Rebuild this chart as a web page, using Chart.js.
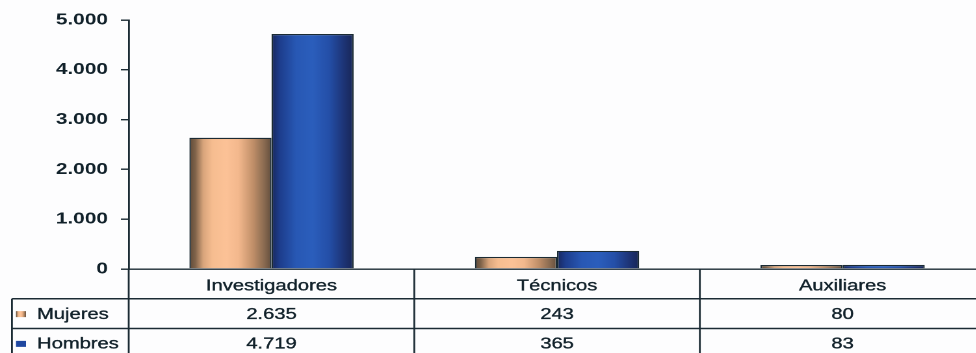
<!DOCTYPE html>
<html>
<head>
<meta charset="utf-8">
<script src="https://cdn.jsdelivr.net/npm/chart.js@4/dist/chart.umd.min.js"></script>
<style>
  html, body { margin: 0; padding: 0; background: #fdfdfe; overflow: hidden; width: 976px; height: 353px; }
  #wrap { width: 758px; height: 353px; transform: scaleX(1.3); transform-origin: 0 0; }
</style>
</head>
<body>
<div id="wrap"><canvas id="c" width="758" height="353"></canvas></div>
<script>
// ---- data ----
const categories = ['Investigadores', 'Técnicos', 'Auxiliares'];
const seriesNames = ['Mujeres', 'Hombres'];
const mujeres = [2635, 243, 80];
const hombres = [4719, 365, 83];
const yTicks = [0, 1000, 2000, 3000, 4000, 5000];

// ---- style ----
const INK = '#11212a';
const LINE = '#1b2b34';
const CAT_PCT = 0.575;
const ROW_H = 29.75;
const TABLE_LEFT = 9.2;
const TEXT_STROKE = 0.35;
const mujeresStops = [[0, '#5e4a39'], [0.07, '#7e6249'], [0.17, '#d9a57c'], [0.28, '#f6bd90'], [0.45, '#fcc297'], [0.6, '#f3b88d'], [0.78, '#bf8e68'], [0.92, '#86684f'], [1, '#624d3c']];
const hombresStops = [[0, '#18275c'], [0.1, '#1d3d8c'], [0.3, '#2858b4'], [0.5, '#2b5ebc'], [0.7, '#244fa8'], [0.88, '#1d3476'], [1, '#182656']];
const stopsBySeries = [mujeresStops, hombresStops];

const fmt = v => String(v).replace(/\B(?=(\d{3})+(?!\d))/g, '.');

function makeGradient(chart, x0, w, stops) {
  const g = chart.ctx.createLinearGradient(x0, 0, x0 + w, 0);
  stops.forEach(([o, c]) => g.addColorStop(o, c));
  return g;
}

// per-element horizontal "cylinder" gradient, based on each bar's own geometry
const gradientPlugin = {
  id: 'barGradient',
  beforeDatasetsDraw(chart) {
    chart.data.datasets.forEach((ds, di) => {
      const meta = chart.getDatasetMeta(di);
      meta.data.forEach(el => {
        const { x, width } = el.getProps(['x', 'width'], true);
        if (!isFinite(x) || !isFinite(width) || !el.options) return;
        el.options.backgroundColor = makeGradient(chart, x - width / 2, width, stopsBySeries[di]);
      });
    });
  }
};

const tablePlugin = {
  id: 'dataTable',
  afterDraw(chart) {
    const { ctx, chartArea: a, scales: { x } } = chart;
    const H = chart.height;
    const catW = x.width / categories.length;
    ctx.save();
    ctx.strokeStyle = LINE;
    ctx.lineWidth = 1.4;
    [1, 2].forEach(r => {
      const y = a.bottom + ROW_H * r;
      ctx.beginPath(); ctx.moveTo(TABLE_LEFT, y); ctx.lineTo(chart.width, y); ctx.stroke();
    });
    ctx.beginPath(); ctx.moveTo(TABLE_LEFT, a.bottom + ROW_H); ctx.lineTo(TABLE_LEFT, H); ctx.stroke();
    for (let i = 0; i <= categories.length; i++) {
      const xx = x.left + i * catW;
      ctx.beginPath(); ctx.moveTo(xx, a.bottom); ctx.lineTo(xx, H); ctx.stroke();
    }
    ctx.fillStyle = INK;
    ctx.strokeStyle = INK;
    ctx.lineWidth = TEXT_STROKE;
    ctx.font = '15.5px "Liberation Sans", Arial, sans-serif';
    ctx.textBaseline = 'middle';
    const text = (s, px, py) => { ctx.strokeText(s, px, py); ctx.fillText(s, px, py); };
    const rows = [mujeres, hombres];
    rows.forEach((vals, r) => {
      const yc = a.bottom + ROW_H * (r + 1.5) + 1;
      ctx.textAlign = 'center';
      vals.forEach((v, i) => text(fmt(v), x.getPixelForValue(i), yc));
      ctx.textAlign = 'left';
      text(seriesNames[r], 28.5, yc);
      ctx.fillStyle = r === 0 ? makeGradient(chart, 12.3, 7.7, mujeresStops) : '#1f47a0';
      ctx.fillRect(12.3, yc - 3.5, 7.7, 6);
      ctx.fillStyle = INK;
    });
    ctx.restore();
  }
};

new Chart(document.getElementById('c'), {
  type: 'bar',
  data: {
    labels: categories,
    datasets: [
      { label: seriesNames[0], data: mujeres, backgroundColor: () => '#f1b88b', borderColor: LINE, borderWidth: 1.2 },
      { label: seriesNames[1], data: hombres, backgroundColor: () => '#2a5ebd', borderColor: LINE, borderWidth: 1.2 }
    ]
  },
  options: {
    responsive: false,
    animation: false,
    devicePixelRatio: 2,
    layout: { padding: { top: 20, left: 0, right: 0, bottom: 0 } },
    plugins: { legend: { display: false }, tooltip: { enabled: false } },
    datasets: { bar: { categoryPercentage: CAT_PCT, barPercentage: 1 } },
    scales: {
      x: {
        grid: { display: false, drawTicks: false },
        border: { display: true, color: LINE, width: 1.4 },
        ticks: { color: INK, padding: 8, textStrokeColor: INK, textStrokeWidth: TEXT_STROKE, font: { family: '"Liberation Sans", Arial, sans-serif', size: 15.5 } },
        afterFit: s => { s.height = 84; }
      },
      y: {
        min: 0, max: 5000,
        afterBuildTicks: s => { s.ticks = yTicks.map(v => ({ value: v })); },
        grid: { drawOnChartArea: false, drawTicks: true, tickLength: 6, color: LINE, lineWidth: 1.4 },
        border: { display: true, color: LINE, width: 1.4 },
        ticks: { color: INK, padding: 10, callback: v => fmt(v), font: { family: '"Liberation Sans", Arial, sans-serif', size: 16, weight: 'bold' } },
        afterFit: s => { s.width = 99; }
      }
    }
  },
  plugins: [gradientPlugin, tablePlugin]
});
</script>
</body>
</html>
